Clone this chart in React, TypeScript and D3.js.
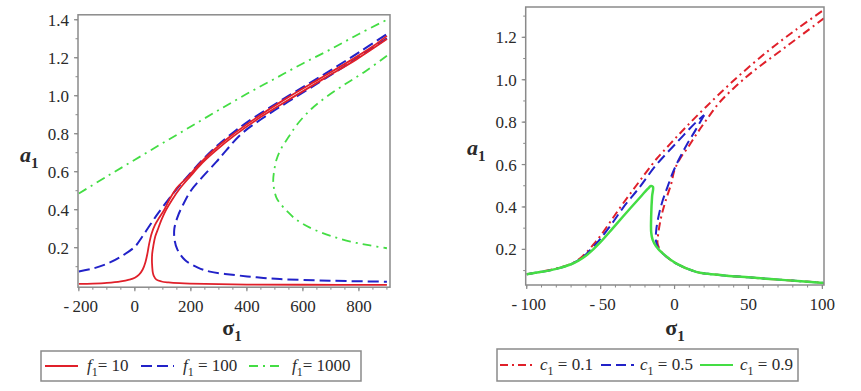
import React from 'react';
import * as d3 from 'd3';

type Pt = [number, number];

// ---- left panel: a1 vs sigma1 for f1 = 10, 100, 1000 ----
const f10Upper: Pt[] = [
  [-200, 0.009], [-150, 0.011], [-100, 0.015], [-50, 0.023], [-20, 0.032], [0, 0.042], [15, 0.058],
  [28, 0.085], [38, 0.125], [45, 0.17], [51, 0.22], [60, 0.275], [72, 0.32], [88, 0.36], [105, 0.40],
  [122, 0.45], [150, 0.515], [190, 0.574], [230, 0.64], [275, 0.705], [340, 0.785], [435, 0.885],
  [545, 0.99], [660, 1.09], [775, 1.19], [850, 1.26], [900, 1.315],
];
const f10Lower: Pt[] = [
  [900, 1.298], [790, 1.19], [675, 1.09], [562, 0.99], [452, 0.89], [355, 0.79], [288, 0.71],
  [240, 0.645], [197, 0.574], [160, 0.51], [132, 0.45], [112, 0.40], [96, 0.35], [83, 0.30], [73, 0.26],
  [66, 0.21], [62, 0.17], [61, 0.13], [62, 0.10], [64, 0.07], [68, 0.05], [77, 0.032], [95, 0.022],
  [120, 0.017], [160, 0.013], [250, 0.009], [400, 0.006], [600, 0.005], [900, 0.004],
];
const f100Upper: Pt[] = [
  [-200, 0.075], [-150, 0.09], [-100, 0.115], [-50, 0.153], [0, 0.205], [25, 0.255], [50, 0.31],
  [75, 0.365], [100, 0.415], [150, 0.51], [200, 0.595], [250, 0.675], [300, 0.745], [350, 0.805],
  [400, 0.86], [500, 0.955], [600, 1.045], [700, 1.135], [800, 1.228], [900, 1.325],
];
const f100Lower: Pt[] = [
  [900, 1.302], [795, 1.20], [690, 1.10], [582, 1.0], [475, 0.90], [381, 0.80], [327, 0.714],
  [290, 0.65], [240, 0.57], [200, 0.50], [170, 0.42], [152, 0.36], [141, 0.30], [142, 0.24],
  [152, 0.19], [179, 0.135], [225, 0.095], [268, 0.074], [357, 0.056], [435, 0.044], [518, 0.035],
  [696, 0.026], [900, 0.021],
];
const f1000Upper: Pt[] = [
  [-200, 0.485], [-100, 0.575], [0, 0.663], [100, 0.751], [200, 0.838], [300, 0.925], [400, 1.01],
  [500, 1.09], [600, 1.17], [700, 1.245], [800, 1.325], [900, 1.40],
];
const f1000Lower: Pt[] = [
  [900, 1.21], [820, 1.125], [750, 1.06], [680, 0.99], [630, 0.93], [580, 0.85], [550, 0.785],
  [520, 0.715], [505, 0.66], [497, 0.60], [494, 0.556], [497, 0.51], [505, 0.465], [518, 0.434],
  [545, 0.39], [570, 0.355], [600, 0.325], [640, 0.295], [700, 0.262], [770, 0.232], [840, 0.212],
  [900, 0.197],
];

// ---- right panel: a1 vs sigma1 for c1 = 0.1, 0.5, 0.9 ----
const c01Up: Pt[] = [
  [-100, 0.083], [-90, 0.095], [-80, 0.11], [-70, 0.132], [-65, 0.152], [-60, 0.182], [-55, 0.222],
  [-50, 0.265], [-42, 0.345], [-35, 0.415], [-26, 0.50], [-12.4, 0.625], [-7.9, 0.66], [0, 0.72],
  [7.9, 0.778], [21.4, 0.873], [41.7, 1.007], [64, 1.14], [82, 1.235], [101, 1.33],
];
const c01Down: Pt[] = [
  [101, 1.29], [75.5, 1.156], [52.9, 1.038], [40, 0.96], [30, 0.89], [22, 0.815], [15, 0.745],
  [9, 0.68], [4.5, 0.637], [0, 0.575], [-2.2, 0.511], [-6, 0.43], [-9, 0.354], [-11, 0.275],
  [-11.5, 0.228], [-10, 0.2], [-8, 0.181], [1, 0.134], [14.6, 0.094], [22.5, 0.085], [35, 0.076],
  [50, 0.068], [75, 0.055], [101, 0.042],
];
const c05Up: Pt[] = [
  [-100, 0.083], [-90, 0.094], [-80, 0.108], [-70, 0.13], [-65, 0.149], [-60, 0.176], [-55, 0.212],
  [-50, 0.252], [-42, 0.325], [-35, 0.395], [-24, 0.49], [-12.4, 0.598], [1, 0.70], [14.6, 0.80],
  [20, 0.833],
];
const c05Down: Pt[] = [
  [20, 0.833], [14, 0.76], [8, 0.69], [3, 0.625], [-1, 0.565], [-5, 0.49], [-8.5, 0.42], [-11, 0.35],
  [-12.4, 0.29], [-12.6, 0.24], [-11, 0.205], [-8, 0.181], [1, 0.134], [14.6, 0.094], [22.5, 0.085],
  [35, 0.076], [50, 0.068], [75, 0.055], [101, 0.042],
];
const c09: Pt[] = [
  [-100, 0.083], [-90, 0.094], [-80, 0.108], [-70, 0.13], [-65, 0.147], [-60, 0.17], [-55, 0.2],
  [-50, 0.235], [-42, 0.298], [-35, 0.354], [-24, 0.44], [-18, 0.486], [-16, 0.499], [-14.6, 0.495],
  [-15.2, 0.45], [-15.8, 0.36], [-15.8, 0.28], [-14.8, 0.245], [-12.5, 0.215], [-8, 0.181], [1, 0.134],
  [14.6, 0.094], [22.5, 0.085], [35, 0.076], [50, 0.068], [75, 0.055], [101, 0.042],
];

const leftXTicks = [-200, 0, 200, 400, 600, 800];
const leftYTicks = [0.2, 0.4, 0.6, 0.8, 1.0, 1.2, 1.4];
const rightXTicks = [-100, -50, 0, 50, 100];
const rightYTicks = [0.2, 0.4, 0.6, 0.8, 1.0, 1.2];

const RED = '#e0202a';
const BLUE = '#2222c8';
const GREEN = '#44dd44';
const FRAME = '#8a8a8a';
const TXT = '#2a2a2a';
const SERIF = "'Liberation Serif', 'Times New Roman', Times, serif";

interface Curve { pts: Pt[]; color: string; width: number; dash?: string }
interface LegendItem { color: string; width: number; dash?: string; sym: string; val: string }

interface PanelProps {
  id: string;
  xDomain: [number, number]; xRange: [number, number];
  yDomain: [number, number]; yRange: [number, number];
  xTicks: number[]; xMinor: number[]; yTicks: number[]; yMinor: number[];
  curves: Curve[];
  yLabelX: number; yLabelY: number; xLabelX: number;
  legend: { x: number; y: number; w: number; h: number; items: LegendItem[]; lineX: number[]; textX: number[] };
}

function fmtX(d: number) {
  return d < 0 ? `-\u2009${Math.abs(d)}` : `${d}`;
}

const serifStyle = { fontFamily: SERIF };

function Panel(p: PanelProps) {
  const x = d3.scaleLinear().domain(p.xDomain).range(p.xRange);
  const y = d3.scaleLinear().domain(p.yDomain).range(p.yRange);
  const line = d3.line<Pt>().x(d => x(d[0])).y(d => y(d[1])).curve(d3.curveCatmullRom.alpha(0.5));
  const [x0, x1] = p.xRange;
  const [yb, yt] = p.yRange;
  const fy = d3.format('.1f');
  const lg = p.legend;
  const ly = lg.y + lg.h / 2;
  return (
    <g style={serifStyle}>
      <defs>
        <clipPath id={p.id}>
          <rect x={x0} y={yt} width={x1 - x0} height={yb - yt} />
        </clipPath>
      </defs>
      {/* ticks */}
      {p.yMinor.map(t => (
        <line key={'ym' + t} x1={x0 - 2.5} x2={x0} y1={y(t)} y2={y(t)} stroke={FRAME} strokeWidth={1} />
      ))}
      {p.yTicks.map(t => (
        <g key={'y' + t}>
          <line x1={x0 - 4} x2={x0} y1={y(t)} y2={y(t)} stroke={FRAME} strokeWidth={1.2} />
          <text x={x0 - 9} y={y(t)} dy="0.35em" textAnchor="end" fontSize={17} fill={TXT} style={serifStyle}>{fy(t)}</text>
        </g>
      ))}
      {p.xMinor.map(t => (
        <line key={'xm' + t} x1={x(t)} x2={x(t)} y1={yb} y2={yb + 2.5} stroke={FRAME} strokeWidth={1} />
      ))}
      {p.xTicks.map(t => (
        <g key={'x' + t}>
          <line x1={x(t)} x2={x(t)} y1={yb} y2={yb + 4} stroke={FRAME} strokeWidth={1.2} />
          <text x={x(t) + (t < 0 ? 2 : 0)} y={yb + 25} textAnchor="middle" fontSize={17} fill={TXT} style={serifStyle}>{fmtX(t)}</text>
        </g>
      ))}
      {/* curves */}
      <g clipPath={`url(#${p.id})`}>
        {p.curves.map((c, i) => (
          <path key={i} d={line(c.pts) || ''} fill="none" stroke={c.color} strokeWidth={c.width}
            strokeDasharray={c.dash} strokeLinejoin="round" />
        ))}
      </g>
      <rect x={x0} y={yt} width={x1 - x0} height={yb - yt} fill="none" stroke={FRAME} strokeWidth={1.5} />
      {/* axis labels */}
      <text x={p.yLabelX} y={p.yLabelY} fontSize={22} fontWeight="bold" fill={TXT} style={serifStyle}>
        <tspan fontStyle="italic">a</tspan>
        <tspan fontSize={15} dy={6}>1</tspan>
      </text>
      <text x={p.xLabelX} y={335} fontSize={22} fontWeight="bold" fill={TXT} textAnchor="middle" style={serifStyle}>
        <tspan>σ</tspan>
        <tspan fontSize={15} dy={6}>1</tspan>
      </text>
      {/* legend */}
      <rect x={lg.x} y={lg.y} width={lg.w} height={lg.h} fill="white" stroke={FRAME} strokeWidth={1.5} />
      {lg.items.map((it, i) => (
        <g key={i}>
          <line x1={lg.lineX[i]} x2={lg.lineX[i] + 33} y1={ly} y2={ly} stroke={it.color} strokeWidth={it.width}
            strokeDasharray={it.dash} />
          <text x={lg.textX[i]} y={ly + 5} fontSize={17} fill={TXT} style={serifStyle}>
            <tspan fontStyle="italic">{it.sym}</tspan>
            <tspan fontSize={12} dy={5}>1</tspan>
            <tspan dy={-5}>{it.val}</tspan>
          </text>
        </g>
      ))}
    </g>
  );
}

export default function App() {
  const leftCurves: Curve[] = [
    { pts: f1000Upper, color: GREEN, width: 1.8, dash: '9,5,2,5' },
    { pts: f1000Lower, color: GREEN, width: 1.8, dash: '9,5,2,5' },
    { pts: f100Upper, color: BLUE, width: 2, dash: '11,5' },
    { pts: f100Lower, color: BLUE, width: 2, dash: '11,5' },
    { pts: f10Upper, color: RED, width: 1.8 },
    { pts: f10Lower, color: RED, width: 1.8 },
  ];
  const rightCurves: Curve[] = [
    { pts: c01Up, color: RED, width: 2, dash: '8,4,2,4' },
    { pts: c01Down, color: RED, width: 2, dash: '8,4,2,4' },
    { pts: c05Up, color: BLUE, width: 2, dash: '10,5' },
    { pts: c05Down, color: BLUE, width: 2, dash: '10,5' },
    { pts: c09, color: GREEN, width: 2.5 },
  ];
  return (
    <svg width={861} height={391} style={{ position: 'absolute', left: 0, top: 0, background: 'white' }}>
      <rect width={861} height={391} fill="white" />
      <Panel
        id="clipL"
        xDomain={[-203, 911]} xRange={[78, 390]}
        yDomain={[-0.008, 1.426]} yRange={[287.2, 14.8]}
        xTicks={leftXTicks} xMinor={d3.range(-200, 901, 50)}
        yTicks={leftYTicks} yMinor={d3.range(0.1, 1.41, 0.1)}
        curves={leftCurves}
        yLabelX={20} yLabelY={162} xLabelX={232}
        legend={{
          x: 41, y: 351, w: 320, h: 30,
          items: [
            { color: RED, width: 2, sym: 'f', val: '= 10' },
            { color: BLUE, width: 2, dash: '11,5', sym: 'f', val: ' = 100' },
            { color: GREEN, width: 2, dash: '9,5,2,5', sym: 'f', val: '= 1000' },
          ],
          lineX: [45, 141, 249], textX: [87, 183, 292],
        }}
      />
      <Panel
        id="clipR"
        xDomain={[-100.7, 101.1]} xRange={[525.7, 824]}
        yDomain={[0.032, 1.343]} yRange={[285, 7]}
        xTicks={rightXTicks} xMinor={d3.range(-100, 101, 10)}
        yTicks={rightYTicks} yMinor={d3.range(0.1, 1.31, 0.1)}
        curves={rightCurves}
        yLabelX={467} yLabelY={155} xLabelX={675}
        legend={{
          x: 497, y: 349, w: 301, h: 32,
          items: [
            { color: RED, width: 2, dash: '8,4,2,4', sym: 'c', val: ' = 0.1' },
            { color: BLUE, width: 2, dash: '10,5', sym: 'c', val: ' = 0.5' },
            { color: GREEN, width: 2, sym: 'c', val: ' = 0.9' },
          ],
          lineX: [500, 601, 700], textX: [540, 640, 740],
        }}
      />
    </svg>
  );
}
